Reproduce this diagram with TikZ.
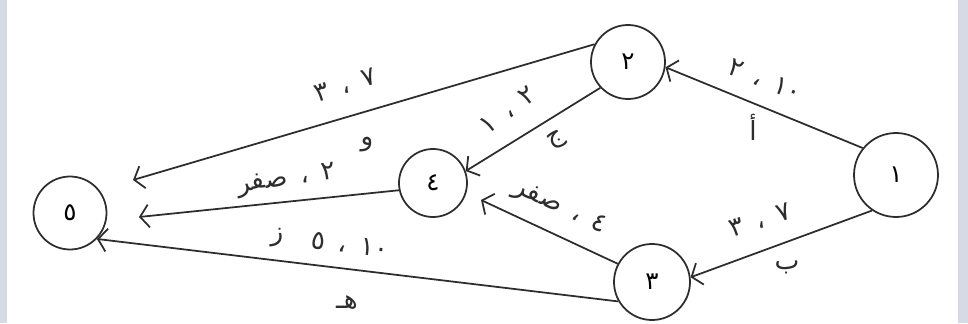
\documentclass[tikz,border=0pt]{standalone}
\usepackage{fontspec}
\newfontfamily\arabicfont[Script=Arabic]{DejaVu Sans}
\TeXXeTstate=1
\usetikzlibrary{arrows.meta}
\definecolor{sidegray}{RGB}{214,218,228}
\definecolor{ink}{RGB}{45,45,45}
\newcommand{\gap}{\enspace}

\begin{document}
\begin{tikzpicture}[
  event/.style={draw=ink, line width=1pt, circle, inner sep=0pt,
    font=\arabicfont\fontsize{14}{16}\selectfont},
  act/.style={draw=ink, line width=1pt, -{Straight Barb[length=5pt,width=13pt]}},
  lbl/.style={text=ink, inner sep=1pt, font=\arabicfont\fontsize{15}{17}\selectfont}
]
\useasboundingbox (0,0) rectangle (19.36,6.46);
\fill[sidegray] (0,0) rectangle (0.14,6.46);
\fill[sidegray] (19.16,0) rectangle (19.36,6.46);

% events
\node[event, minimum size=1.68cm] (n1) at (17.92,2.96) {\beginR ١\endR};
\node[event, minimum size=1.48cm] (n2) at (12.56,5.22) {\beginR ٢\endR};
\node[event, minimum size=1.52cm] (n3) at (13.04,0.82) {\beginR ٣\endR};
\node[event, minimum size=1.36cm] (n4) at (8.66,2.80) {\beginR ٤\endR};
\node[event, minimum size=1.46cm] (n5) at (1.40,2.20) {\beginR ٥\endR};

% loose arrow ends
\coordinate (e25) at (2.66,2.86);
\coordinate (e45) at (2.78,2.12);
\coordinate (e34) at (9.62,2.46);

% activities
\draw[act] (n1.141) -- (n2.352);
\draw[act] (n1.236) -- (n3.7);
\draw[act] (n2.223) -- (n4.20);
\draw[act] (n2.152) -- (e25);
\draw[act] (n4.192) -- (e45);
\draw[act] (n3.152) -- (e34);
\draw[act] (n3.210) -- (n5.316);

% labels
\node[lbl, rotate=-22] (t12) at (15.30,4.86) {\beginR ١٠\gap،\gap٢\endR};
\node[lbl] (a12) at (15.06,3.92) {\beginR أ\endR};
\node[lbl, rotate=17] (t25) at (6.90,4.76) {\beginR ٧\gap،\gap٣\endR};
\node[lbl] (a25) at (7.34,3.56) {\beginR و\endR};
\node[lbl, rotate=37] (t24) at (10.16,4.26) {\beginR ٢\gap،\gap١\endR};
\node[lbl, rotate=30] (a24) at (11.14,3.66) {\beginR ج\endR};
\node[lbl, rotate=8] (t45) at (5.74,2.86) {\beginR ٢\gap،\gap صفر\endR};
\node[lbl, rotate=-25] (t34) at (11.20,2.30) {\beginR ٤\gap،\gap صفر\endR};
\node[lbl, rotate=18] (t13) at (15.20,2.06) {\beginR ٧\gap،\gap٣\endR};
\node[lbl] (a13) at (15.74,1.12) {\beginR ب\endR};
\node[lbl, rotate=-7] (t35) at (7.00,1.56) {\beginR ١٠\gap،\gap٥\endR};
\node[lbl] (a45) at (5.54,1.70) {\beginR ز\endR};
\node[lbl] (a35) at (6.94,0.40) {\beginR هـ\endR};
\end{tikzpicture}
\end{document}
